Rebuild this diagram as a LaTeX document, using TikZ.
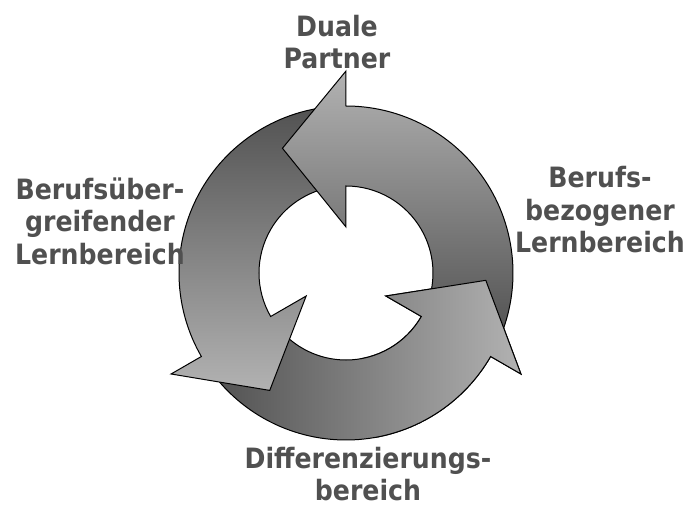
\documentclass[tikz,border=0pt]{standalone}
\usepackage{fontspec}
\setmainfont{DejaVu Sans}
\newfontfamily\areafont{DejaVu Sans}[FakeStretch=0.9]
\usepackage{tikz}
\usepackage{xcolor}

\definecolor{labelgray}{RGB}{80,80,80}
\definecolor{arrowlight}{RGB}{178,178,178}
\definecolor{arrowdark}{RGB}{82,82,82}

% ring and head sizes
\newcommand{\rin}{87}
\newcommand{\rout}{167}
\newcommand{\hin}{46}
\newcommand{\hout}{202}
\newcommand{\rtip}{140}
% one curved arrow: tail angle, angle of the head's base
\newcommand{\cyclearrow}[2]{%
  (#1:\rin) -- (#1:\rout) arc[start angle=#1, end angle=#2, radius=\rout]
  -- (#2:\hout) -- ({#2+27}:\rtip) -- (#2:\hin) -- (#2:\rin)
  arc[start angle=#2, end angle=#1, radius=\rin] -- cycle}

\begin{document}
\begin{tikzpicture}[x=1pt,y=1pt,
  areatext/.style={font=\areafont\fontsize{28}{32.5}\selectfont\bfseries,
    text=labelgray, align=center, inner sep=0pt},
  arrowbox/.style={draw=black, line width=1pt, line join=miter},
  shadeA/.style={top color=arrowlight, bottom color=arrowdark},
  shadeB/.style={top color=arrowdark, bottom color=arrowlight},
  shadeC/.style={left color=arrowdark, right color=arrowlight}]
  \useasboundingbox (-346,-233) rectangle (345,273);
  \coordinate (hub) at (0,0);

  % Arrows
  \foreach \tail/\base/\shd in {218/330/shadeC, 98/210/shadeB, -22/90/shadeA}
    \shadedraw[arrowbox,\shd] \cyclearrow{\tail}{\base};
  % head of the first one once more, on top
  \begin{scope}
    \clip (hub) -- (280:300) arc[start angle=280, end angle=370, radius=300] -- cycle;
    \shadedraw[arrowbox,shadeC] \cyclearrow{218}{330};
  \end{scope}

  % Labels
  \node[areatext] (partner) at (-9,231) {Duale\\Partner};
  \node[areatext] (uebergreifend) at (-246,52) {Berufsüber-\\greifender\\Lernbereich};
  \node[areatext] (bezogen) at (254,63) {Berufs-\\bezogener\\Lernbereich};
  \node[areatext] (differenz) at (22,-201) {Differenzierungs-\\bereich};
\end{tikzpicture}
\end{document}
